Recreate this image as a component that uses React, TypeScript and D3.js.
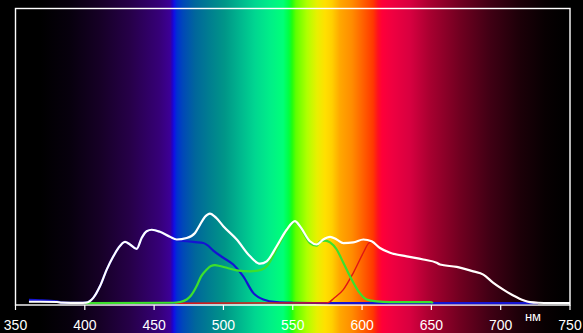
import React from "react";
import * as d3 from "d3";

// wavelength ticks (nm)
const tickValues = [350, 400, 450, 500, 550, 600, 650, 700, 750];
const unitLabel = "нм";

// series: [wavelength nm, relative intensity %]
const whiteSeries: [number, number][] = [
  [359.7, 0.6], [367.7, 0.6], [379.9, 0.5], [383.5, 0.3], [396.5, 0.2], [400.9, 0.3],
  [406.1, 1.9], [411, 5.9], [415.8, 11.5], [420.6, 16.0], [424.2, 18.8], [429, 20.9],
  [432.6, 20.0], [437.4, 18.5], [441, 22.2], [444.6, 24.5], [448.3, 25.0], [454.2, 24.3],
  [461.4, 22.6], [466.3, 21.7], [473.5, 22.2], [479.5, 23.9], [483.1, 26.7], [486.7, 29.4],
  [490.3, 30.5], [494.6, 29.1], [499.9, 26.2], [509.6, 21.7], [519.2, 16.0], [526.4, 13.5],
  [531.2, 14.3], [538.4, 19.4], [545.6, 25.0], [551.6, 27.9], [555.2, 26.2], [562.4, 21.1],
  [567.3, 20.0], [572, 21.7], [576.9, 22.6], [581.7, 21.7], [586.5, 20.5], [593.7, 20.7],
  [600.9, 21.7], [606.9, 21.1], [612.9, 18.8], [620.2, 17.2], [632.2, 16.0], [644.2, 14.9],
  [653.8, 13.8], [656.2, 13.2], [668.3, 12.4], [680.2, 10.9], [687.5, 9.8], [694.7, 7.0],
  [701.9, 4.7], [709.1, 2.7], [716.3, 1.1], [721.2, 0.45], [727, 0.25], [750, 0.1],
];

const blueSeries: [number, number][] = [
  [359.7, 1.2], [367.7, 1.1], [379.9, 0.7], [383.5, 0.3], [396.5, 0.2], [400.9, 0.3],
  [406.1, 1.9], [411, 5.9], [415.8, 11.5], [420.6, 16.0], [424.2, 18.8], [429, 20.9],
  [432.6, 20.0], [437.4, 18.5], [441, 22.2], [444.6, 24.5], [448.3, 25.0], [454.2, 24.3],
  [461.4, 22.6], [466.3, 21.5], [473.5, 21.1], [479.5, 20.8], [485.5, 20.5], [488.9, 19.6],
  [492.7, 17.9], [499.9, 15.5], [507.1, 13.2], [514.3, 9.2], [521.5, 3.6], [528.8, 1.35],
  [538.4, 0.45], [550.4, 0.25], [580, 0.1], [727, 0.1],
];

const greenSeries: [number, number][] = [
  [400, 0.1], [463.8, 0.25], [468.7, 0.5], [473.5, 1.35], [476.6, 2.7], [480.7, 5.9],
  [483.8, 9.1], [487.9, 11.5], [491, 12.7], [493.9, 13.0], [497.5, 12.7], [502.4, 12.1],
  [509.6, 11.2], [519.2, 10.9], [527.6, 11.5], [531.2, 12.6], [538.4, 18.5], [545.6, 24.5],
  [551.6, 27.6], [555.2, 26.0], [562.4, 20.5], [567.3, 19.6], [569.7, 21.0], [573.3, 21.3],
  [576.9, 20.7], [581.7, 18.3], [586.5, 13.8], [591.3, 9.2], [597.3, 4.2], [603.3, 1.35],
  [610.6, 0.7], [620, 0.5], [650, 0.5], [651, 0.1],
];

const redSeries: [number, number][] = [
  [465, 0.1], [574, 0.2], [576.5, 0.5], [579.3, 1.6], [586.5, 4.7], [593.7, 10.4],
  [600.9, 17.2], [604.5, 20.3], [606.9, 21.0], [612.9, 18.8], [620.2, 17.2], [632.2, 16.0],
  [644.2, 14.9], [653.8, 13.8], [656.2, 13.2], [668.3, 12.4], [680.2, 10.9], [687.5, 9.8],
  [694.7, 7.0], [701.9, 4.7], [709.1, 2.7], [716.3, 1.1], [721.2, 0.45], [727, 0.25],
];

// background spectrum colour stops: [wavelength nm, colour]
const spectrumStops: [number, string][] = [
  [338, "#000000"], [367.7, "#000000"], [389, "#07000d"], [411, "#160026"], [432.6, "#260048"],
  [454, "#360078"], [461.5, "#3c0096"], [463, "#2200c4"], [464.5, "#1010e6"], [466.5, "#0030d0"],
  [470.8, "#0048b8"], [479.5, "#00669c"], [490.3, "#007f90"], [501, "#009688"], [512, "#00b68e"],
  [522.8, "#00d690"], [533.6, "#00ee88"], [543, "#00ff78"], [547.3, "#00ff40"], [549.5, "#20ff10"],
  [552.3, "#60ff00"], [560.3, "#b0ff00"], [567.5, "#e8f000"], [573.3, "#ffe000"], [578.3, "#ffd000"],
  [584, "#ffa800"], [592.7, "#ff8c00"], [600.7, "#ff6000"], [607.9, "#ff3800"], [611.5, "#ff1020"],
  [614.4, "#ff0038"], [621.6, "#f00040"], [634.6, "#d80040"], [649, "#a80030"], [670.7, "#700020"],
  [692.3, "#400014"], [714, "#1c0008"], [732, "#080002"], [746.4, "#000000"], [760, "#000000"],
];

const W = 583;
const H = 333;

export default function App() {
  const x = d3.scaleLinear().domain([350, 750]).range([15.5, 570]);
  const y = d3.scaleLinear().domain([0, 100]).range([303.5, 8.5]);
  const line = d3
    .line<[number, number]>()
    .x((d) => x(d[0]))
    .y((d) => y(d[1]))
    .curve(d3.curveMonotoneX);

  const axisY = 305;

  return (
    <svg
      width={W}
      height={H}
      style={{ position: "absolute", left: 0, top: 0, display: "block" }}
    >
      <defs>
        <linearGradient id="spec" gradientUnits="userSpaceOnUse" x1={0} x2={W} y1={0} y2={0}>
          {spectrumStops.map(([nm, c], i) => (
            <stop key={i} offset={Math.max(0, Math.min(1, x(nm) / W))} stopColor={c} />
          ))}
        </linearGradient>
      </defs>
      <rect x={0} y={0} width={W} height={H} fill="#000" />
      <rect x={0} y={0} width={W} height={H} fill="url(#spec)" />

      {/* frame */}
      <rect
        x={x(350)}
        y={8.5}
        width={x(750) - x(350)}
        height={axisY - 8.5}
        fill="none"
        stroke="#fff"
        strokeWidth={1.4}
      />
      {tickValues.map((t) => (
        <line key={t} x1={x(t)} x2={x(t)} y1={axisY} y2={axisY + 5} stroke="#fff" strokeWidth={1.2} />
      ))}

      <path d={line(blueSeries) || ""} fill="none" stroke="#1414d2" strokeWidth={2.2} strokeLinejoin="round" />
      <path d={line(redSeries) || ""} fill="none" stroke="#e01414" strokeWidth={1.4} strokeLinejoin="round" />
      <path d={line(greenSeries) || ""} fill="none" stroke="#3ce02c" strokeWidth={2.2} strokeLinejoin="round" />
      <path d={line(whiteSeries) || ""} fill="none" stroke="#ffffff" strokeWidth={2.2} strokeLinejoin="round" />

      {tickValues.map((t) => (
        <text
          key={"l" + t}
          x={x(t)}
          y={329.5}
          textAnchor="middle"
          fill="#fff"
          fontSize={14}
          fontFamily="'Liberation Sans Narrow', 'Liberation Sans', Arial, sans-serif"
        >
          {t}
        </text>
      ))}
      <text
        x={533}
        y={321}
        textAnchor="middle"
        fill="#fff"
        fontSize={13}
        fontFamily="'Liberation Sans', Arial, sans-serif"
      >
        {unitLabel}
      </text>
    </svg>
  );
}
